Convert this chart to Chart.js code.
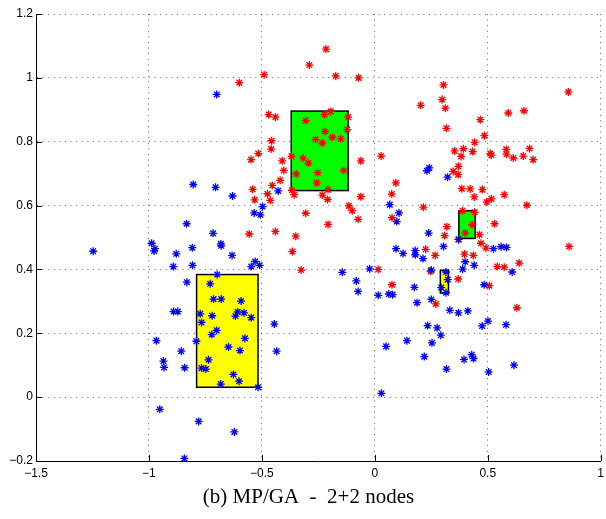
<!DOCTYPE html>
<html>
<head>
<meta charset="utf-8">
<script src="https://cdn.jsdelivr.net/npm/chart.js@4.4.1/dist/chart.umd.min.js"></script>
<style>
    html, body { margin: 0; padding: 0; background: #fff; }
    .plot-wrap { width: 606px; height: 519px; position: relative; }
</style>
</head>
<body>
<div class="plot-wrap"><canvas id="plot"></canvas></div>
<script>
// Tick values on both axes
const xTicks = [-1.5, -1, -0.5, 0, 0.5, 1];
const yTicks = [-0.2, 0, 0.2, 0.4, 0.6, 0.8, 1, 1.2];

// Red samples [x, y]
const redPoints = [
    [-0.216, 1.09], [-0.29, 1.04], [-0.49, 1.01], [-0.60, 0.985], [-0.47, 0.885], [-0.44, 0.877],
    [-0.306, 0.866], [-0.222, 0.885], [-0.22, 0.832], [-0.262, 0.807], [-0.232, 0.796], [-0.457, 0.803],
    [-0.459, 0.777], [-0.516, 0.763], [-0.548, 0.744], [-0.369, 0.754], [-0.317, 0.748], [-0.294, 0.733],
    [-0.41, 0.74], [-0.403, 0.71], [-0.348, 0.699], [-0.253, 0.703], [-0.257, 0.671], [-0.419, 0.679],
    [-0.454, 0.663], [-0.541, 0.651], [-0.367, 0.648], [-0.357, 0.634], [-0.475, 0.637], [-0.532, 0.618],
    [-0.463, 0.616], [-0.232, 0.633], [-0.207, 0.65], [-0.209, 0.619], [-0.306, 0.576], [-0.207, 0.541],
    [-0.44, 0.519], [-0.556, 0.511], [-0.35, 0.504],
    [-0.173, 1.006], [-0.072, 1.0], [0.304, 0.978], [0.298, 0.932], [0.312, 0.905], [0.203, 0.914],
    [0.317, 0.842], [-0.195, 0.895], [-0.118, 0.877], [-0.122, 0.838], [-0.188, 0.814], [-0.151, 0.809],
    [-0.138, 0.71], [-0.062, 0.74], [0.028, 0.755], [0.353, 0.771], [0.392, 0.778], [0.382, 0.754],
    [0.37, 0.723], [0.347, 0.707], [0.369, 0.697], [0.385, 0.653], [0.093, 0.671], [0.075, 0.636],
    [-0.062, 0.628], [-0.115, 0.599], [-0.1, 0.584], [-0.074, 0.557], [0.215, 0.595], [0.076, 0.562],
    [0.319, 0.534], [0.309, 0.506], [0.388, 0.584], [0.4, 0.514],
    [0.857, 0.956], [0.591, 0.89], [0.66, 0.897], [0.467, 0.869], [0.485, 0.819], [0.442, 0.798],
    [0.433, 0.769], [0.511, 0.763], [0.516, 0.758], [0.582, 0.776], [0.583, 0.761], [0.613, 0.749],
    [0.657, 0.755], [0.685, 0.779], [0.701, 0.744], [0.422, 0.652], [0.476, 0.65], [0.44, 0.627],
    [0.495, 0.611], [0.516, 0.621], [0.573, 0.634], [0.673, 0.601], [0.442, 0.579], [0.431, 0.54],
    [0.463, 0.509], [0.53, 0.543], [0.47, 0.482],
    [0.492, 0.467], [0.86, 0.472], [0.436, 0.444], [0.397, 0.448], [0.542, 0.409], [0.573, 0.407],
    [0.639, 0.42], [0.507, 0.349], [0.629, 0.28],
    [0.372, 0.494], [0.225, 0.463], [0.267, 0.444], [0.015, 0.4], [0.076, 0.352], [0.247, 0.394],
    [0.369, 0.37], [0.27, 0.292],
    [-0.365, 0.456], [-0.326, 0.398]
];

// Blue samples [x, y]
const bluePoints = [
    [-0.70, 0.948], [-0.428, 0.646], [-0.804, 0.666], [-0.705, 0.657], [-0.63, 0.63], [-0.497, 0.597],
    [-0.534, 0.577], [-0.507, 0.571], [-0.833, 0.543], [-0.716, 0.513], [-0.682, 0.48],
    [0.231, 0.709], [0.241, 0.718], [0.322, 0.689], [0.066, 0.603], [0.107, 0.577], [0.097, 0.55],
    [0.238, 0.514], [0.37, 0.494],
    [0.304, 0.472], [0.094, 0.465], [0.125, 0.45], [0.179, 0.459], [0.179, 0.446], [0.213, 0.434],
    [0.4, 0.424], [0.389, 0.401], [-0.144, 0.391], [-0.023, 0.402], [-0.082, 0.364], [-0.074, 0.331],
    [0.015, 0.319], [0.062, 0.323], [0.079, 0.321], [0.175, 0.344], [0.187, 0.296], [0.25, 0.398],
    [0.315, 0.392], [0.294, 0.343], [0.315, 0.327], [0.323, 0.368], [0.25, 0.306], [0.332, 0.272],
    [0.37, 0.264], [0.412, 0.27], [0.234, 0.224], [0.276, 0.217], [0.292, 0.194], [0.142, 0.177],
    [0.253, 0.17], [0.05, 0.159], [0.219, 0.127], [0.317, 0.088], [0.395, 0.118], [0.029, 0.012],
    [0.525, 0.465], [0.559, 0.471], [0.583, 0.469], [0.44, 0.413], [0.608, 0.392], [0.484, 0.352],
    [0.475, 0.223], [0.501, 0.238], [0.581, 0.227], [0.429, 0.133], [0.437, 0.121], [0.616, 0.1],
    [0.504, 0.079],
    [-0.808, 0.468], [-0.68, 0.474], [-0.632, 0.444], [-0.53, 0.425], [-0.547, 0.409], [-0.51, 0.413],
    [-0.807, 0.413], [-0.698, 0.384], [-0.832, 0.36], [-0.729, 0.355], [-0.714, 0.307], [-0.68, 0.307],
    [-0.592, 0.301], [-0.773, 0.261], [-0.72, 0.255], [-0.767, 0.234], [-0.617, 0.254], [-0.607, 0.267],
    [-0.579, 0.264], [-0.547, 0.249], [-0.445, 0.229], [-0.7, 0.209], [-0.722, 0.196], [-0.575, 0.184],
    [-0.79, 0.175], [-0.857, 0.144], [-0.648, 0.157], [-0.597, 0.146], [-0.435, 0.144], [-0.736, 0.117],
    [-0.842, 0.092], [-0.767, 0.091], [-0.748, 0.088], [-0.626, 0.071], [-0.601, 0.05], [-0.682, 0.041],
    [-0.517, 0.031], [-0.78, -0.076], [-0.622, -0.109], [-0.843, -0.192],
    [-1.247, 0.457], [-0.988, 0.482], [-0.973, 0.465], [-0.977, 0.458], [-0.879, 0.449], [-0.892, 0.409],
    [-0.891, 0.268], [-0.872, 0.268], [-0.967, 0.177], [-0.936, 0.113], [-0.933, 0.093], [-0.952, -0.038]
];

// Node regions [xMin, xMax, yMin, yMax]
const greenBoxes = [
    [-0.37, -0.118, 0.647, 0.896],
    [0.372, 0.444, 0.497, 0.584]
];
const yellowBoxes = [
    [-0.789, -0.517, 0.031, 0.384],
    [0.29, 0.326, 0.326, 0.397]
];

const caption = "(b) MP/GA  -  2+2 nodes";

const toXY = (pts) => pts.map(([x, y]) => ({ x, y }));

const fmtTick = (v) => {
    const n = parseFloat(Number(v).toFixed(2));
    return (n < 0 ? "\u2212" : "") + Math.abs(n);
};

// filled rectangles under the samples
const boxesPlugin = {
    id: "boxes",
    beforeDatasetsDraw(chart) {
        const { ctx, scales: { x, y } } = chart;
        const drawBoxes = (boxes, fill) => {
            boxes.forEach(([x0, x1, y0, y1]) => {
                const left = x.getPixelForValue(x0);
                const right = x.getPixelForValue(x1);
                const top = y.getPixelForValue(y1);
                const bottom = y.getPixelForValue(y0);
                ctx.save();
                ctx.fillStyle = fill;
                ctx.strokeStyle = "#000";
                ctx.lineWidth = 1.5;
                ctx.fillRect(left, top, right - left, bottom - top);
                ctx.strokeRect(left, top, right - left, bottom - top);
                ctx.restore();
            });
        };
        drawBoxes(greenBoxes, "#00ff00");
        drawBoxes(yellowBoxes, "#ffff00");
    }
};

// inward tick marks on the left and bottom axes, plus the caption
const framePlugin = {
    id: "frame",
    afterDraw(chart) {
        const { ctx, chartArea: area, scales: { x, y } } = chart;
        ctx.save();
        ctx.strokeStyle = "#000";
        ctx.lineWidth = 1;
        ctx.beginPath();
        x.ticks.forEach((t) => {
            const px = Math.round(x.getPixelForValue(t.value)) + 0.5;
            ctx.moveTo(px, area.bottom);
            ctx.lineTo(px, area.bottom - 6);
        });
        y.ticks.forEach((t) => {
            const py = Math.round(y.getPixelForValue(t.value)) + 0.5;
            ctx.moveTo(area.left, py);
            ctx.lineTo(area.left + 6, py);
        });
        ctx.stroke();

        ctx.fillStyle = "#000";
        ctx.font = "21px 'Liberation Serif', 'Times New Roman', serif";
        ctx.textAlign = "center";
        ctx.textBaseline = "middle";
        ctx.fillText(caption, 308.5, 497);
        ctx.restore();
    }
};

const tickFont = { family: "'Liberation Sans', Arial, Helvetica, sans-serif", size: 12 };
const gridOpts = { color: "rgba(0,0,0,0.6)", lineWidth: 1, drawTicks: false };
const borderOpts = { display: true, color: "#000", width: 1, dash: [1, 4.6] };

new Chart(document.getElementById("plot"), {
    type: "scatter",
    data: {
        datasets: [
            {
                label: "blue",
                data: toXY(bluePoints),
                pointStyle: "star",
                pointRadius: 4,
                pointBorderWidth: 1.3,
                borderColor: "#0000ff",
                backgroundColor: "#0000ff"
            },
            {
                label: "red",
                data: toXY(redPoints),
                pointStyle: "star",
                pointRadius: 4,
                pointBorderWidth: 1.3,
                borderColor: "#ff0000",
                backgroundColor: "#ff0000"
            }
        ]
    },
    options: {
        responsive: true,
        maintainAspectRatio: false,
        animation: false,
        events: [],
        layout: {
            padding: { top: 14, right: 3, bottom: 36, left: 0 }
        },
        plugins: {
            legend: { display: false },
            tooltip: { enabled: false }
        },
        scales: {
            x: {
                type: "linear",
                min: -1.5,
                max: 1,
                afterBuildTicks: (scale) => { scale.ticks = xTicks.map((v) => ({ value: v })); },
                afterFit: (scale) => {
                    scale.height = 22;
                    scale.paddingLeft = 0;
                    scale.paddingRight = 0;
                },
                grid: gridOpts,
                border: borderOpts,
                ticks: { font: tickFont, color: "#000", padding: 5, maxRotation: 0, callback: fmtTick }
            },
            y: {
                type: "linear",
                min: -0.2,
                max: 1.2,
                afterBuildTicks: (scale) => { scale.ticks = yTicks.map((v) => ({ value: v })); },
                afterFit: (scale) => {
                    scale.width = 36;
                    scale.paddingTop = 0;
                    scale.paddingBottom = 0;
                },
                grid: gridOpts,
                border: borderOpts,
                ticks: { font: tickFont, color: "#000", padding: 3, callback: fmtTick }
            }
        }
    },
    plugins: [boxesPlugin, framePlugin]
});
</script>
</body>
</html>
